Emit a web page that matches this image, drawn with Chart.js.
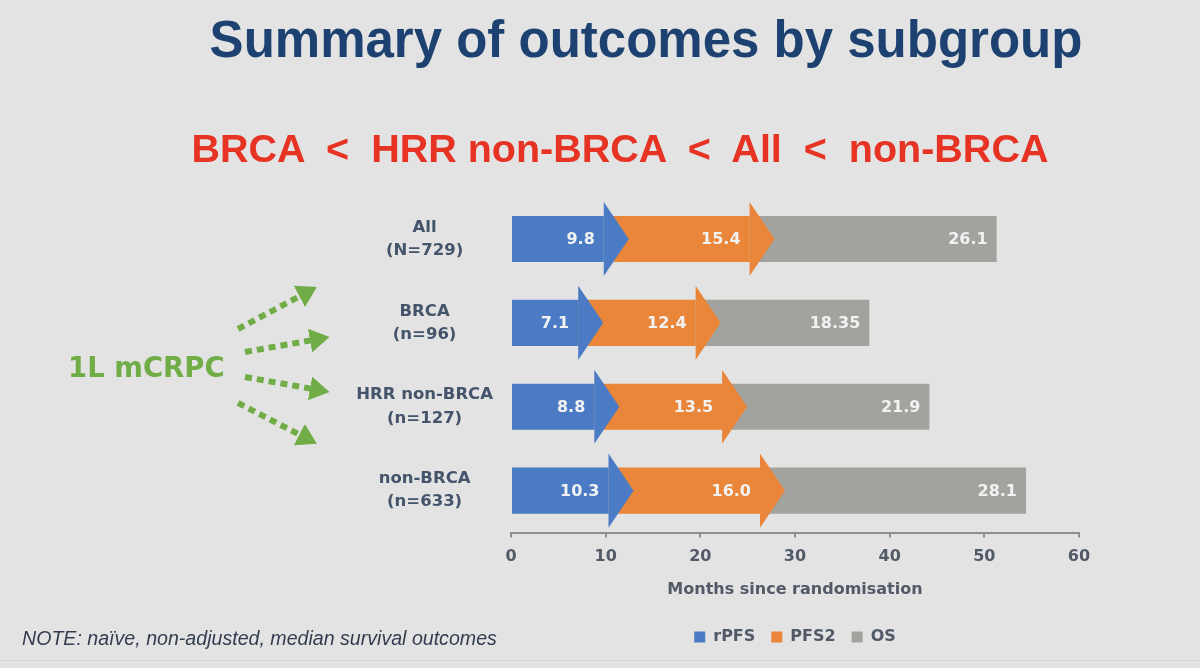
<!DOCTYPE html>
<html>
<head>
<meta charset="utf-8">
<script src="https://cdn.jsdelivr.net/npm/chart.js@4.4.1/dist/chart.umd.min.js"></script>
<style>
  html, body { margin: 0; padding: 0; }
  body { width: 1200px; height: 668px; background: #e3e3e3; position: relative; overflow: hidden; }
  #grafico { position: absolute; left: 0; top: 0; }
  .titulo { position: absolute; left: 146px; width: 1000px; top: 15px; text-align: center;
    font: bold 51px/50px "Liberation Sans", Arial, sans-serif; color: #1d4271; }
  .subtitulo { position: absolute; left: 120px; width: 1000px; top: 128px; text-align: center; white-space: pre;
    font: bold 39.5px/40px "Liberation Sans", Arial, sans-serif; color: #e63323; }
  .nota { position: absolute; left: 22px; top: 626px; white-space: nowrap;
    font: italic 19.6px/24px "Liberation Sans", Arial, sans-serif; color: #333d4f; }
  .linea { position: absolute; left: 0; right: 0; top: 660px; height: 1px; background: #d2d2d2; }
  .grupo { position: absolute; left: 68px; top: 350px; white-space: nowrap;
    font: bold 27.5px/34px "DejaVu Sans", sans-serif; color: #70ad47; }
  #flechas { position: absolute; left: 0; top: 0; pointer-events: none; }
</style>
</head>
<body>
<canvas id="grafico" width="1200" height="668"></canvas>
<div class="titulo">Summary of outcomes by subgroup</div>
<div class="subtitulo">BRCA  &lt;  HRR non-BRCA  &lt;  All  &lt;  non-BRCA</div>
<div class="grupo">1L mCRPC</div>
<svg id="flechas" width="1200" height="668">
  <defs>
    <marker id="punta" markerWidth="4" markerHeight="4" refX="0.5" refY="2" orient="auto" markerUnits="strokeWidth">
      <path d="M0,0 L3.3,2 L0,4 Z" fill="#70ad47"/>
    </marker>
  </defs>
  <g stroke="#70ad47" stroke-width="6" stroke-dasharray="7 5" fill="none" marker-end="url(#punta)">
    <line x1="238" y1="329" x2="302" y2="295"/>
    <line x1="245" y1="352" x2="313" y2="340"/>
    <line x1="245" y1="377" x2="313" y2="389"/>
    <line x1="238" y1="403" x2="302" y2="436"/>
  </g>
</svg>
<div class="nota">NOTE: naïve, non-adjusted, median survival outcomes</div>
<div class="linea"></div>

<script>
// Datos del gráfico
const categorias = [["All", "(N=729)"], ["BRCA", "(n=96)"], ["HRR non-BRCA", "(n=127)"], ["non-BRCA", "(n=633)"]];
const rpfs = [9.8, 7.1, 8.8, 10.3];
const pfs2 = [15.4, 12.4, 13.5, 16.0];
const os = [26.1, 18.35, 21.9, 28.1];
const ejeMin = 0;
const ejeMax = 60;
const ejePaso = 10;

const colorTexto = "#515a66";

// Formatea el valor con al menos un decimal (16.0, 18.35)
function formatoValor(v) {
  const dec = (String(v).split(".")[1] || "").length;
  return v.toFixed(Math.max(1, dec));
}

// Plugin para dibujar las puntas de flecha y las etiquetas de valor
const flechasPlugin = {
  id: "flechas",
  afterDatasetsDraw(chart) {
    const ctx = chart.ctx;
    ctx.save();
    chart.data.datasets.forEach((ds, di) => {
      if (!ds.flecha) return;
      chart.getDatasetMeta(di).data.forEach((bar) => {
        const mitad = bar.height / 2 + 14;
        ctx.beginPath();
        ctx.moveTo(bar.x, bar.y - mitad);
        ctx.lineTo(bar.x + 25, bar.y);
        ctx.lineTo(bar.x, bar.y + mitad);
        ctx.closePath();
        ctx.fillStyle = ds.backgroundColor;
        ctx.fill();
      });
    });
    ctx.font = "bold 16px 'DejaVu Sans'";
    ctx.fillStyle = "#f2f2f2";
    ctx.textAlign = "right";
    ctx.textBaseline = "middle";
    chart.data.datasets.forEach((ds, di) => {
      chart.getDatasetMeta(di).data.forEach((bar, i) => {
        ctx.fillText(formatoValor(ds.data[i]), bar.x - 9, bar.y + 1);
      });
    });
    ctx.restore();
  },
};

Chart.defaults.font.family = "'DejaVu Sans', sans-serif";

const ctxGrafico = document.getElementById("grafico").getContext("2d");
new Chart(ctxGrafico, {
  type: "bar",
  data: {
    labels: categorias,
    datasets: [
      { label: "rPFS", data: rpfs, backgroundColor: "#4a7bc4", flecha: true },
      { label: "PFS2", data: pfs2, backgroundColor: "#e9863a", flecha: true },
      { label: "OS", data: os, backgroundColor: "#a2a39f", flecha: false },
    ],
  },
  options: {
    indexAxis: "y",
    responsive: false,
    animation: false,
    datasets: { bar: { categoryPercentage: 1, barPercentage: 0.55, borderWidth: 0 } },
    layout: { padding: { left: 0, right: 121, top: 197, bottom: 13 } },
    plugins: {
      tooltip: { enabled: false },
      legend: {
        position: "bottom",
        fullSize: false,
        labels: {
          boxWidth: 11,
          boxHeight: 11,
          padding: 16,
          color: colorTexto,
          font: { size: 16, weight: "bold" },
        },
      },
    },
    scales: {
      x: {
        stacked: true,
        min: ejeMin,
        max: ejeMax,
        ticks: { stepSize: ejePaso, color: colorTexto, padding: 10, font: { size: 16, weight: "bold" } },
        grid: { drawOnChartArea: false, drawTicks: true, tickLength: 5, color: "#8f8f8f", lineWidth: 2 },
        border: { display: true, color: "#8f8f8f", width: 2 },
        title: {
          display: true,
          text: "Months since randomisation",
          color: colorTexto,
          font: { size: 16, weight: "bold" },
          padding: { top: 3, bottom: 14 },
        },
      },
      y: {
        stacked: true,
        grid: { display: false },
        border: { display: false },
        ticks: {
          crossAlign: "center",
          padding: 10,
          color: "#44546a",
          font: { size: 16.5, weight: "bold", lineHeight: 1.4 },
        },
        afterFit: (escala) => {
          escala.width = 511;
        },
      },
    },
  },
  plugins: [flechasPlugin],
});
</script>
</body>
</html>
